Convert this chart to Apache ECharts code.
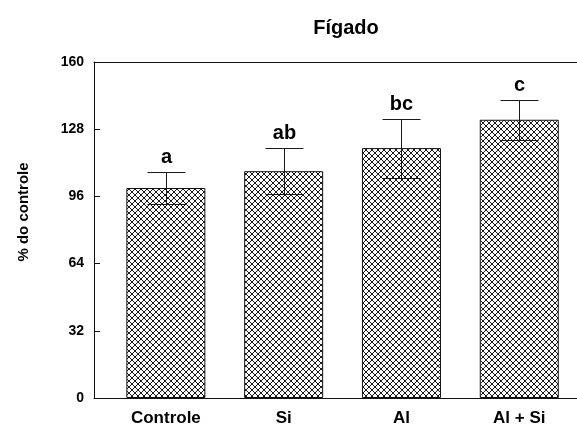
<!DOCTYPE html>
<html>
<head>
<meta charset="utf-8">
<script src="https://cdn.jsdelivr.net/npm/echarts@6/dist/echarts.min.js"></script>
<style>
  html, body { margin: 0; padding: 0; background: #fff; }
  #chart { width: 577px; height: 428px; }
</style>
</head>
<body>
<div id="chart"></div>
<script>
// Liver: relative values (% of control) per treatment, mean ± error
const categories = ['Controle', 'Si', 'Al', 'Al + Si'];
const means = [100, 108, 119, 132.5];
const errors = [7.5, 11, 14, 9.5];
const letters = ['a', 'ab', 'bc', 'c'];
const yTicks = [0, 32, 64, 96, 128, 160];

// Crosshatch tile used to fill the bars
function hatchTile() {
  const c = document.createElement('canvas');
  c.width = 6; c.height = 6;
  const g = c.getContext('2d');
  g.fillStyle = '#fff';
  g.fillRect(0, 0, 6, 6);
  g.fillStyle = '#1a1a1a';
  for (let i = 0; i < 6; i++) {
    g.fillRect(i, i, 1, 1);
    g.fillRect(5 - i, i, 1, 1);
  }
  return c;
}

const positions = categories.map((_, i) => i + 1);
const barData = positions.map((x, i) => [x, means[i]]);
const errData = positions.map((x, i) => [x, means[i] - errors[i], means[i] + errors[i], i]);

const chart = echarts.init(document.getElementById('chart'), null, { renderer: 'canvas' });

chart.setOption({
  animation: false,
  backgroundColor: '#fff',
  title: {
    text: 'Fígado',
    left: 341,
    top: 13,
    textAlign: 'center',
    textStyle: { fontFamily: 'Liberation Sans, Arial', fontWeight: 'bold', fontSize: 20, color: '#000' }
  },
  graphic: [{
    type: 'text',
    x: 24,
    y: 212,
    rotation: Math.PI / 2,
    style: {
      text: '% do controle',
      fontFamily: 'Liberation Sans, Arial',
      fontWeight: 'bold',
      fontSize: 15,
      fill: '#000',
      align: 'center',
      verticalAlign: 'middle'
    }
  }],
  grid: { left: 94, right: 0, top: 62, bottom: 30, containLabel: false },
  xAxis: [{
    type: 'value',
    min: 0.39,
    max: 4.49,
    position: 'bottom',
    splitLine: { show: false },
    axisLine: { show: true, lineStyle: { color: '#111', width: 1 } },
    axisTick: { show: false },
    axisLabel: {
      customValues: positions,
      formatter: v => categories[Math.round(v) - 1] || '',
      margin: 12,
      fontFamily: 'Liberation Sans, Arial',
      fontWeight: 'bold',
      fontSize: 17,
      color: '#000'
    }
  }, {
    type: 'value',
    min: 0.39,
    max: 4.49,
    position: 'top',
    splitLine: { show: false },
    axisLine: { show: true, onZero: false, lineStyle: { color: '#111', width: 1 } },
    axisTick: { show: false },
    axisLabel: { show: false }
  }],
  yAxis: {
    type: 'value',
    min: yTicks[0],
    max: yTicks[yTicks.length - 1],
    interval: yTicks[1] - yTicks[0],
    splitLine: { show: false },
    axisLine: { show: true, lineStyle: { color: '#111', width: 1 } },
    axisTick: { show: true, inside: true, length: 6, lineStyle: { color: '#111' } },
    axisLabel: {
      margin: 10,
      fontFamily: 'Liberation Sans, Arial',
      fontWeight: 'bold',
      fontSize: 14,
      color: '#000'
    }
  },
  series: [{
    type: 'bar',
    data: barData,
    barWidth: 79,
    itemStyle: {
      color: { image: hatchTile(), repeat: 'repeat' },
      borderColor: '#111',
      borderWidth: 1
    }
  }, {
    type: 'custom',
    data: errData,
    z: 10,
    renderItem: function (params, api) {
      const x = api.value(0);
      const lo = api.coord([x, api.value(1)]);
      const hi = api.coord([x, api.value(2)]);
      const idx = api.value(3);
      const half = 19;
      const cx = Math.round(lo[0]) + 0.5;
      const yl = Math.round(lo[1]) + 0.5;
      const yh = Math.round(hi[1]) + 0.5;
      const st = { stroke: '#1a1a1a', lineWidth: 1 };
      return {
        type: 'group',
        children: [
          { type: 'line', shape: { x1: cx, y1: yh, x2: cx, y2: yl }, style: st },
          { type: 'line', shape: { x1: cx - half, y1: yh, x2: cx + half, y2: yh }, style: st },
          { type: 'line', shape: { x1: cx - half, y1: yl, x2: cx + half, y2: yl }, style: st },
          {
            type: 'text',
            x: cx,
            y: yh - 5,
            style: {
              text: letters[idx],
              fontFamily: 'Liberation Sans, Arial',
              fontWeight: 'bold',
              fontSize: 20,
              fill: '#000',
              align: 'center',
              verticalAlign: 'bottom'
            }
          }
        ]
      };
    }
  }]
});
</script>
</body>
</html>
